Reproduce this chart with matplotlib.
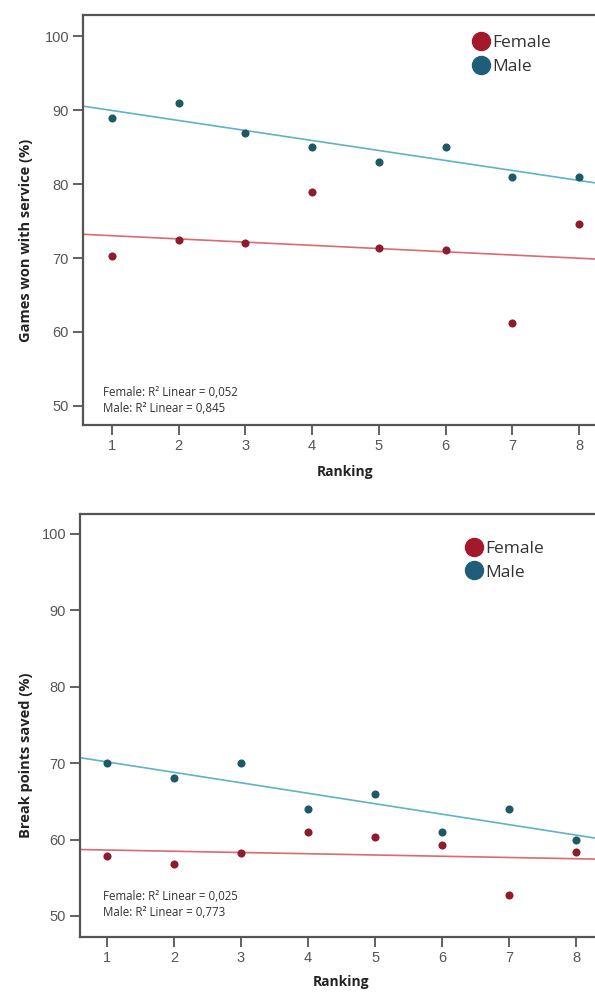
import numpy as np
import matplotlib
matplotlib.use("Agg")
import matplotlib.pyplot as plt
from matplotlib.lines import Line2D

ranking = [1, 2, 3, 4, 5, 6, 7, 8]
games_female = [70.3, 72.4, 72.1, 79.0, 71.3, 71.1, 61.2, 74.6]
games_male = [89.0, 91.0, 86.9, 85.0, 83.0, 85.0, 81.0, 81.0]
bp_female = [57.8, 56.8, 58.2, 61.0, 60.3, 59.3, 52.7, 58.4]
bp_male = [70.0, 68.0, 70.0, 64.0, 66.0, 61.0, 64.0, 60.0]
yticks = [50, 60, 70, 80, 90, 100]
r2_games = ["Female: R\u00b2 Linear = 0,052", "Male: R\u00b2 Linear = 0,845"]
r2_bp = ["Female: R\u00b2 Linear = 0,025", "Male: R\u00b2 Linear = 0,773"]

FEM_DOT = "#8E1B2E"
MAL_DOT = "#1E5A66"
FEM_LEG = "#A3182A"
MAL_LEG = "#1F5E78"
FEM_LINE = "#DB6A72"
MAL_LINE = "#5FB3C4"
SPINE = "#555555"
TICKC = "#555555"

W, H = 595, 992
fig = plt.figure(figsize=(W / 100, H / 100), dpi=100)
fig.patch.set_facecolor("white")


def panel(rect, px, xlim, ylim, fem, mal, r2, ylabel, ylab_y, ylab_x, xlab_y,
          leg_pos, r2_y):
    ax = fig.add_axes(rect)
    x = np.array(ranking, dtype=float)
    xs = np.array(xlim)
    for vals, lc in ((fem, FEM_LINE), (mal, MAL_LINE)):
        b, a = np.polyfit(x, vals, 1)
        ax.plot(xs, a + b * xs, color=lc, lw=1.2, zorder=2)
    ax.scatter(x, fem, s=34, color=FEM_DOT, zorder=3, linewidths=0)
    ax.scatter(x, mal, s=34, color=MAL_DOT, zorder=3, linewidths=0)
    ax.set_xlim(*xlim)
    ax.set_ylim(*ylim)
    ax.set_xticks(ranking)
    ax.set_yticks(yticks)
    for s in ["top", "right", "left", "bottom"]:
        ax.spines[s].set_color(SPINE)
        ax.spines[s].set_linewidth(1.6)
    ax.tick_params(axis="both", direction="out", length=7, width=1.3,
                   color=SPINE, labelcolor=TICKC, labelsize=10.5, pad=3)
    for lab in ax.get_xticklabels() + ax.get_yticklabels():
        lab.set_fontfamily("Liberation Sans")
    ax.set_ylabel(ylabel, fontsize=10.5, fontweight="bold", family="Open Sans",
                  color="#222222")
    ax.yaxis.set_label_coords(ylab_x, ylab_y)
    ax.set_xlabel("Ranking", fontsize=10, fontweight="bold", family="Open Sans",
                  color="#222222")
    ax.xaxis.set_label_coords(0.5, xlab_y)
    handles = [Line2D([], [], ls="none", marker="o", ms=13, color=FEM_LEG,
                      label="Female"),
               Line2D([], [], ls="none", marker="o", ms=13, color=MAL_LEG,
                      label="Male")]
    leg = ax.legend(handles=handles, loc="upper left", bbox_to_anchor=leg_pos,
                    frameon=False, handletextpad=0.15, labelspacing=0.45,
                    prop={"family": "Open Sans", "size": 12.5},
                    handlelength=1.0, borderpad=0)
    for t in leg.get_texts():
        t.set_color("#333333")
    # R² notes, positioned in pixels relative to the axes
    x0, y0, w0, h0 = px
    for txt, yy in zip(r2, r2_y):
        ax.text((103 - x0) / w0, (y0 + h0 - yy) / h0, txt,
                transform=ax.transAxes, fontsize=8.3, family="Open Sans",
                color="#333333", va="center", ha="left")
    return ax


# top panel: axes px left 83, right ~608, top 15, bottom 425
px_top = (83, 15, 608 - 83, 410)
panel([83 / W, 1 - 425 / H, (608 - 83) / W, 410 / H], px_top,
      (0.566, 8.434), (47.4, 102.9), games_female, games_male, r2_games,
      "Games won with service (%)", 0.45, -0.095, -0.098,
      (0.725, 0.973), (393, 409))

# bottom panel: axes px left 80, right ~603, top 514, bottom 937
px_bot = (80, 514, 603 - 80, 423)
panel([80 / W, 1 - 937 / H, (603 - 80) / W, 423 / H], px_bot,
      (0.6, 8.4), (47.25, 102.6), bp_female, bp_male, r2_bp,
      "Break points saved (%)", 0.43, -0.09, -0.09,
      (0.72, 0.958), (896, 913))

fig.savefig("out.png", dpi=100)
